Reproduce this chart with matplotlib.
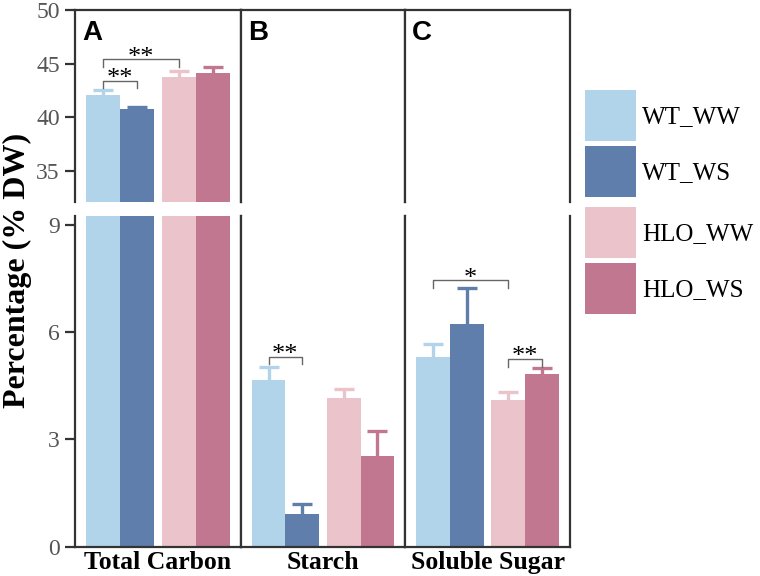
import numpy as np
import matplotlib
matplotlib.use("Agg")
import matplotlib.pyplot as plt
from matplotlib.patches import Patch

groups = ["WT_WW", "WT_WS", "HLO_WW", "HLO_WS"]
colors = ["#b2d4ea", "#5f7eab", "#ebc3ca", "#c0778f"]
panels = ["Total Carbon", "Starch", "Soluble Sugar"]
letters = ["A", "B", "C"]

means = [
    [42.1, 40.75, 43.8, 44.17],
    [4.67, 0.92, 4.17, 2.55],
    [5.30, 6.23, 4.11, 4.83],
]
errs = [
    [0.45, 0.25, 0.55, 0.55],
    [0.35, 0.28, 0.24, 0.70],
    [0.38, 1.02, 0.23, 0.17],
]
# significance brackets: panel, bar i, bar j, bracket height, tick end, label
sig = [
    (0, 0, 1, 43.4, 42.75, "**"),
    (0, 0, 2, 45.4, 44.7, "**"),
    (1, 0, 1, 5.32, 5.1, "**"),
    (2, 0, 2, 7.45, 7.25, "*"),
    (2, 2, 3, 5.25, 5.03, "**"),
]

serif = "Liberation Serif"
xpos = np.array([0, 1, 2.235, 3.235])

fig = plt.figure(figsize=(7.6, 5.76), dpi=100)
lefts = [75, 241, 405]
widths = [166, 164, 165]
top_axes, bot_axes = [], []
for k in range(3):
    l = lefts[k] / 760
    w = widths[k] / 760
    axt = fig.add_axes([l, (576 - 202) / 576, w, 192 / 576])
    axb = fig.add_axes([l, (576 - 546.7) / 576, w, 330.7 / 576])
    top_axes.append(axt)
    bot_axes.append(axb)

    for ax in (axt, axb):
        for i in range(4):
            ax.bar(xpos[i], means[k][i], width=1.0, color=colors[i], zorder=2)
            eb = ax.errorbar(xpos[i], means[k][i], yerr=[[0], [errs[k][i]]],
                             color=colors[i], elinewidth=2.4, capsize=7, capthick=2.4,
                             zorder=3)
            # only the upper cap
            for cl in eb[1]:
                if np.allclose(cl.get_ydata(), means[k][i]):
                    cl.set_visible(False)
        ax.set_xlim(-0.824, 4.059)
        for s in ax.spines.values():
            s.set_color("#333333")
            s.set_linewidth(1.6)

    axt.set_ylim(32.1, 50)
    axb.set_ylim(0, 9.25)
    axt.spines["bottom"].set_visible(False)
    axb.spines["top"].set_visible(False)
    axt.set_xticks([])
    axb.set_xticks([(xpos[0] + xpos[-1]) / 2])
    axb.set_xticklabels([panels[k]], fontsize=18.5, fontweight="bold", family=serif)
    axb.tick_params(axis="x", length=0, pad=3)

    if k == 0:
        axt.set_yticks([35, 40, 45, 50])
        axb.set_yticks([0, 3, 6, 9])
        for ax in (axt, axb):
            ax.tick_params(axis="y", direction="out", length=7, width=1.6,
                           color="#333333", labelcolor="#555555", labelsize=17, pad=4)
            for t in ax.get_yticklabels():
                t.set_family(serif)
    else:
        axt.set_yticks([])
        axb.set_yticks([])

    axt.text(0.042, 0.95, letters[k], transform=axt.transAxes, ha="left", va="top",
             fontsize=20, fontweight="bold", family="Liberation Sans")

# brackets
for k, i, j, h, lo, lab in sig:
    ax = top_axes[k] if k == 0 else bot_axes[k]
    ax.plot([xpos[i], xpos[i], xpos[j], xpos[j]], [lo, h, h, lo],
            color="#666666", lw=1, zorder=4)
    ax.annotate(lab, ((xpos[i] + xpos[j]) / 2, h), xytext=(0, -3),
                textcoords="offset points", ha="center", va="baseline",
                fontsize=19, family=serif, color="black")

fig.text(17 / 760, 1 - 270 / 576, "Percentage (% DW)", rotation=90, ha="center",
         va="center", fontsize=23, fontweight="bold", family=serif)

# legend in two pairs (WT / HLO)
handles = [Patch(facecolor=c, edgecolor="none") for c in colors]
for n, top in ((0, 90), (2, 207)):
    fig.legend(handles[n:n + 2], groups[n:n + 2], loc="upper left",
               bbox_to_anchor=(585 / 760, 1 - top / 576),
               frameon=False, borderpad=0, borderaxespad=0, handlelength=2.04,
               handleheight=2.76, labelspacing=0.2, handletextpad=0.24,
               prop={"family": serif, "size": 18})

fig.savefig("out.png", dpi=100)
